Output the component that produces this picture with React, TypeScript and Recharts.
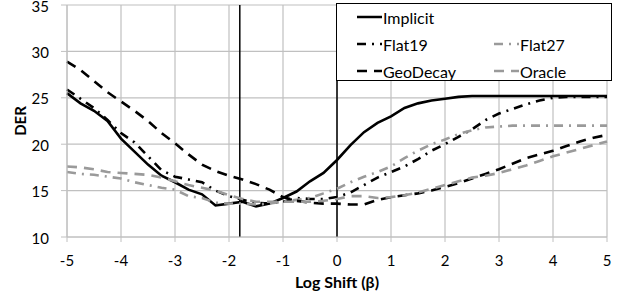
import { LineChart, Line, XAxis, YAxis, CartesianGrid, ReferenceLine, Legend } from 'recharts'

// log shift values (beta), step 0.25
const shifts = [
  -5, -4.75, -4.5, -4.25, -4, -3.75, -3.5, -3.25, -3, -2.75, -2.5, -2.25, -2, -1.75,
  -1.5, -1.25, -1, -0.75, -0.5, -0.25, 0, 0.25, 0.5, 0.75, 1, 1.25, 1.5, 1.75, 2,
  2.25, 2.5, 2.75, 3, 3.25, 3.5, 3.75, 4, 4.25, 4.5, 4.75, 5,
]

const implicit = [
  25.5, 24.4, 23.6, 22.5, 20.6, 19.2, 17.8, 16.6, 15.9, 15.1, 14.6, 13.4, 13.6, 13.8,
  13.3, 13.6, 14.2, 14.9, 16.0, 16.9, 18.3, 19.9, 21.3, 22.3, 23.0, 23.9, 24.4, 24.7, 24.9,
  25.1, 25.2, 25.2, 25.2, 25.2, 25.2, 25.2, 25.2, 25.2, 25.2, 25.2, 25.2,
]

const flat19 = [
  25.9, 24.9, 23.9, 22.6, 21.2, 20.2, 18.7, 17.2, 16.5, 16.2, 15.9, 15.0, 14.4, 14.0,
  13.7, 13.6, 13.8, 14.2, 14.1, 14.1, 14.3, 14.8, 15.6, 16.4, 17.0, 17.6, 18.4, 19.3, 20.0,
  20.8, 21.6, 22.6, 23.3, 23.8, 24.3, 24.7, 25.0, 25.1, 25.1, 25.1, 25.1,
]

const flat27 = [
  17.0, 16.8, 16.7, 16.5, 16.3, 15.9, 15.6, 15.3, 15.1, 14.4, 14.2, 13.7, 13.6, 13.6,
  13.5, 13.6, 13.8, 14.0, 14.2, 14.7, 15.2, 15.9, 16.5, 17.0, 17.6, 18.5, 19.3, 20.0, 20.5,
  21.1, 21.5, 21.8, 21.9, 22.0, 22.0, 22.0, 22.0, 22.0, 22.0, 22.0, 22.0,
]

const geoDecay = [
  28.9, 28.0, 26.8, 25.6, 24.6, 23.6, 22.5, 21.2, 20.1, 18.9, 17.8, 17.1, 16.6, 16.2,
  15.7, 15.1, 14.3, 13.9, 13.7, 13.6, 13.6, 13.5, 13.5, 14.0, 14.3, 14.5, 14.7, 15.0, 15.4,
  15.8, 16.3, 16.8, 17.3, 17.9, 18.5, 18.9, 19.3, 19.8, 20.3, 20.7, 21.0,
]

const oracle = [
  17.6, 17.5, 17.3, 17.0, 16.9, 16.8, 16.7, 16.4, 16.0, 15.6, 15.3, 15.0, 14.5, 14.1,
  13.8, 13.8, 13.8, 13.8, 13.8, 13.9, 14.1, 14.4, 14.4, 14.2, 14.3, 14.5, 14.8, 15.2, 15.6,
  16.0, 16.4, 16.6, 16.9, 17.3, 17.7, 18.2, 18.7, 19.1, 19.5, 19.9, 20.3,
]

const xTicks = [-5, -4, -3, -2, -1, 0, 1, 2, 3, 4, 5]
const yTicks = [10, 15, 20, 25, 30, 35]
const markers = [-1.8, 0]

const BLACK = '#000000'
const GRAY = '#9a9a9a'
const DASH_DOT = '9 6 2 6'
const DASHED = '10 7'
const FONT = 'Lato, "Open Sans", sans-serif'

const series = [
  { key: 'Implicit', color: BLACK, dash: undefined as string | undefined, col: 0, row: 0 },
  { key: 'Flat19', color: BLACK, dash: DASH_DOT, col: 0, row: 1 },
  { key: 'Flat27', color: GRAY, dash: DASH_DOT, col: 1, row: 1 },
  { key: 'GeoDecay', color: BLACK, dash: DASHED, col: 0, row: 2 },
  { key: 'Oracle', color: GRAY, dash: DASHED, col: 1, row: 2 },
]

const rows = shifts.map((s, i) => ({
  shift: s,
  Implicit: implicit[i],
  Flat19: flat19[i],
  Flat27: flat27[i],
  GeoDecay: geoDecay[i],
  Oracle: oracle[i],
}))

function LegendBox() {
  return (
    <div style={{ position: 'relative', width: 276, height: 78, fontFamily: FONT, fontSize: 16 }}>
      {series.map((s) => (
        <div
          key={s.key}
          style={{
            position: 'absolute',
            left: 20 + s.col * 137,
            top: 2 + s.row * 27,
            display: 'flex',
            alignItems: 'center',
            height: 22,
          }}
        >
          <svg width={25} height={6}>
            <line x1={0} y1={3} x2={25} y2={3} stroke={s.color} strokeWidth={2.5} strokeDasharray={s.dash} />
          </svg>
          <span style={{ color: '#000', marginLeft: 1 }}>{s.key}</span>
        </div>
      ))}
    </div>
  )
}

function YTick({ x, y, payload }: any) {
  return (
    <text x={x} y={y + 6.5} textAnchor="end" fontSize={15} fontFamily={FONT} fill="#000">
      {payload.value}
    </text>
  )
}

export default function App() {
  return (
    <div>
      <style>{'body{margin:0}'}</style>
      <LineChart width={627} height={300} data={rows} margin={{ top: 5, right: 20, left: 0, bottom: 0 }}>
        <CartesianGrid stroke="#c0c0c0" strokeWidth={1.2} />
        <XAxis
          dataKey="shift"
          type="number"
          domain={[-5, 5]}
          ticks={xTicks}
          interval={0}
          height={63}
          stroke="#c0c0c0"
          tickSize={5}
          tickMargin={13}
          tick={{ fill: '#000', fontSize: 15, fontFamily: FONT }}
          label={{ value: 'Log Shift (β)', position: 'insideBottom', offset: 12, fill: '#000', fontSize: 16, fontWeight: 'bold', fontFamily: FONT }}
        />
        <YAxis
          type="number"
          domain={[10, 35]}
          ticks={yTicks}
          interval={0}
          width={67}
          stroke="#c0c0c0"
          tickSize={6}
          tickMargin={12}
          tick={<YTick />}
          label={({ viewBox }: any) => (
            <text
              x={20}
              y={viewBox.y + viewBox.height / 2}
              transform={`rotate(-90 20 ${viewBox.y + viewBox.height / 2})`}
              textAnchor="middle"
              dominantBaseline="central"
              fontSize={15}
              fontWeight="bold"
              fontFamily={FONT}
              fill="#000"
            >
              DER
            </text>
          )}
        />
        {markers.map((m) => (
          <ReferenceLine key={m} x={m} stroke="#000" strokeWidth={1.5} />
        ))}
        {series.map((s) => (
          <Line
            key={s.key}
            dataKey={s.key}
            type="linear"
            stroke={s.color}
            strokeWidth={2.6}
            strokeDasharray={s.dash}
            dot={false}
            isAnimationActive={false}
          />
        ))}
        <Legend
          layout="horizontal"
          verticalAlign="middle"
          align="center"
          content={() => <LegendBox />}
          wrapperStyle={{ left: 336, top: 3, width: 276, height: 78, border: '1px solid #000', background: '#fff', boxSizing: 'border-box' }}
        />
      </LineChart>
    </div>
  )
}
